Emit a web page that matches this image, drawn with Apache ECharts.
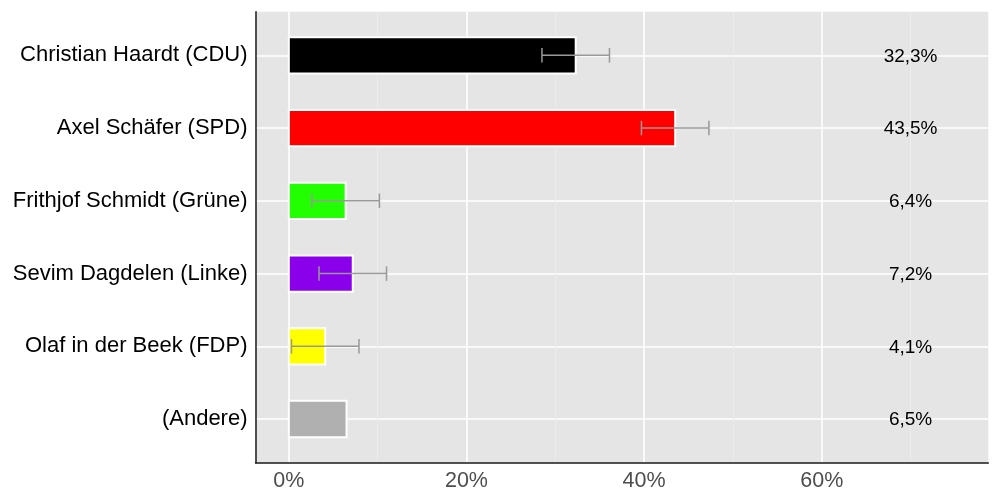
<!DOCTYPE html>
<html>
<head>
<meta charset="utf-8">
<script src="https://cdn.jsdelivr.net/npm/echarts@6/dist/echarts.min.js"></script>
<style>
html,body{margin:0;padding:0;background:#fff;}
#chart{width:1000px;height:500px;}
</style>
</head>
<body>
<div id="chart"></div>
<script>
const categories = ['Christian Haardt (CDU)', 'Axel Schäfer (SPD)', 'Frithjof Schmidt (Grüne)', 'Sevim Dagdelen (Linke)', 'Olaf in der Beek (FDP)', '(Andere)'];
const values = [32.3, 43.5, 6.4, 7.2, 4.1, 6.5];
const errLow = [28.5, 39.7, 2.6, 3.4, 0.3, null];
const errHigh = [36.1, 47.3, 10.2, 11.0, 7.9, null];
const barColors = ['#000000', '#ff0000', '#22ff00', '#8b00ea', '#ffff00', '#b0b0b0'];
const labelPos = 70;
const xMajorTicks = [0, 20, 40, 60];
const xMinorTicks = [10, 30, 50, 70];
const xMin = -3.75, xMax = 78.75;

const positions = categories.map((c, i) => i + 1);
const font = '"Liberation Sans", Arial, Helvetica, sans-serif';

const chart = echarts.init(document.getElementById('chart'), null, {renderer: 'canvas'});

const barData = values.map((v, i) => [v, positions[i]]);
const errData = [];
errLow.forEach((lo, i) => { if (lo != null) errData.push([lo, errHigh[i], positions[i]]); });
const labelData = values.map((v, i) => [labelPos, positions[i], v]);

const option = {
  backgroundColor: '#ffffff',
  animation: false,
  grid: {left: 255.5, right: 11.7, top: 11.7, bottom: 37.3, show: true, backgroundColor: '#e5e5e5', borderWidth: 0, containLabel: false},
  xAxis: [
    {
      type: 'value', min: xMin, max: xMax, position: 'bottom',
      axisLine: {show: true, onZero: false, lineStyle: {color: '#1a1a1a', width: 1.5}},
      axisTick: {show: false, customValues: xMajorTicks},
      splitLine: {show: true, lineStyle: {color: '#ffffff', width: 1.6}},
      axisLabel: {customValues: xMajorTicks, formatter: v => v + '%', color: '#4d4d4d', fontSize: 21.5, fontFamily: font, margin: 7}
    },
    {
      type: 'value', min: xMin, max: xMax, position: 'bottom',
      axisLine: {show: false},
      axisTick: {show: false, customValues: xMinorTicks},
      splitLine: {show: true, lineStyle: {color: '#ececec', width: 1}},
      axisLabel: {show: false}
    }
  ],
  yAxis: {
    type: 'value', min: 0.4, max: 6.6, inverse: true,
    axisLine: {show: true, onZero: false, lineStyle: {color: '#1a1a1a', width: 1.5}},
    axisTick: {show: false, customValues: positions},
    splitLine: {show: true, lineStyle: {color: '#ffffff', width: 1.6}},
    axisLabel: {customValues: positions, formatter: v => categories[Math.round(v) - 1] || '', color: '#000000', fontSize: 22, fontFamily: font, margin: 8}
  },
  series: [
    {
      type: 'custom', xAxisIndex: 0, yAxisIndex: 0, z: 3,
      data: barData,
      renderItem: function (params, api) {
        const v = api.value(0), y = api.value(1);
        const s = api.coord([0, y]);
        const e = api.coord([v, y]);
        const h = api.size([0, 0.5])[1];
        return {type: 'rect', shape: {x: s[0], y: s[1] - h / 2, width: e[0] - s[0], height: h},
          style: {fill: barColors[params.dataIndex], stroke: '#ffffff', lineWidth: 2}};
      }
    },
    {
      type: 'custom', xAxisIndex: 0, yAxisIndex: 0, z: 4,
      data: errData,
      renderItem: function (params, api) {
        const lo = api.value(0), hi = api.value(1), y = api.value(2);
        const a = api.coord([lo, y]);
        const b = api.coord([hi, y]);
        const c = api.size([0, 0.2])[1] / 2;
        const st = {stroke: '#999999', lineWidth: 1.5, fill: null};
        return {type: 'group', children: [
          {type: 'line', shape: {x1: a[0], y1: a[1], x2: b[0], y2: b[1]}, style: st},
          {type: 'line', shape: {x1: a[0], y1: a[1] - c, x2: a[0], y2: a[1] + c}, style: st},
          {type: 'line', shape: {x1: b[0], y1: b[1] - c, x2: b[0], y2: b[1] + c}, style: st}
        ]};
      }
    },
    {
      type: 'custom', xAxisIndex: 0, yAxisIndex: 0, z: 5,
      data: labelData,
      renderItem: function (params, api) {
        const p = api.coord([api.value(0), api.value(1)]);
        const txt = api.value(2).toFixed(1).replace('.', ',') + '%';
        return {type: 'text', x: p[0], y: p[1] + 1,
          style: {text: txt, fill: '#000000', fontSize: 19, fontFamily: font, align: 'center', verticalAlign: 'middle'}};
      }
    }
  ]
};
chart.setOption(option);
</script>
</body>
</html>
